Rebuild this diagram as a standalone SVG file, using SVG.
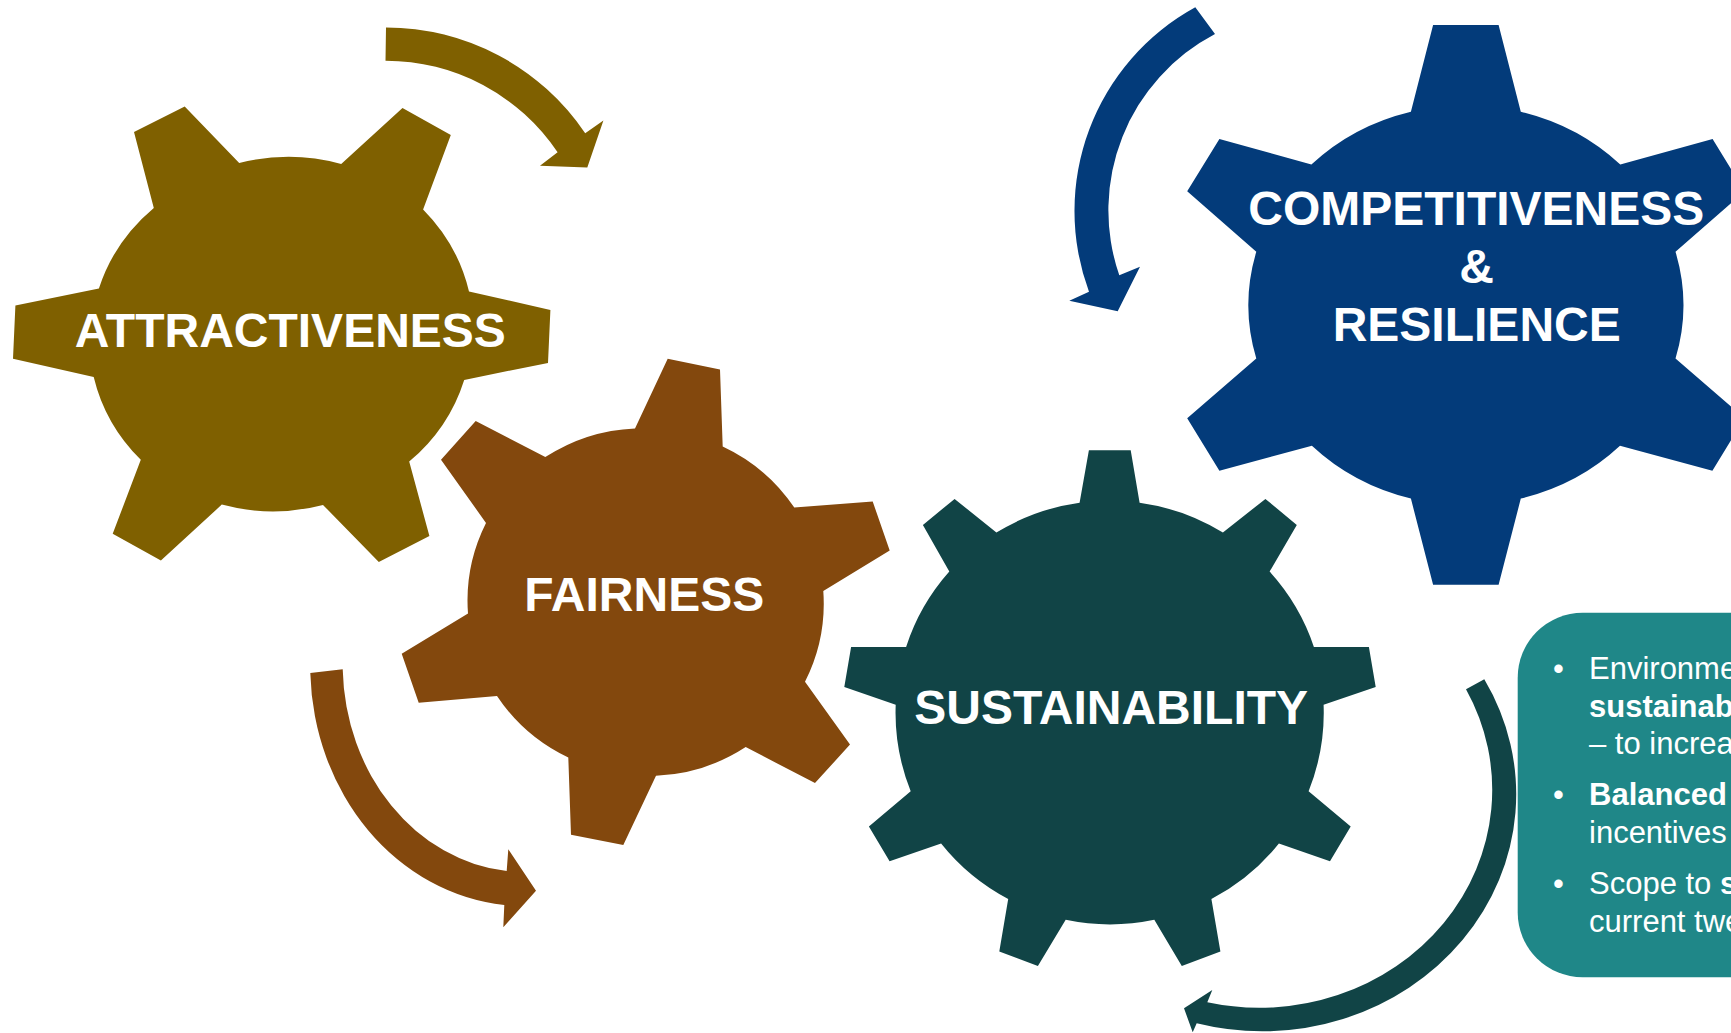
<svg xmlns="http://www.w3.org/2000/svg" width="1731" height="1033" viewBox="0 0 1731 1033">
  <style>
    .lbl { font-family: "Liberation Sans", Arial, sans-serif; font-weight: bold; font-size: 48px; fill: #ffffff; text-anchor: middle; }
    .box { font-family: "Liberation Sans", Arial, sans-serif; font-size: 31px; fill: #ffffff; }
    .b { font-weight: bold; }
    .olive { fill: #7f6000; }
    .brown { fill: #83480d; }
    .blue { fill: #033b7a; }
    .dteal { fill: #114446; }
    .teal { fill: #1f8788; }
  </style>
  <rect width="1731" height="1033" fill="#ffffff"/>

  <g id="connectors">
    <path id="arrow-olive" class="olive" d="M 386,27.4 A 240.4 240.4 0 0 1 585.2,133.2 L 603.4,120.5 L 587.3,167.4 L 540,165.7 L 557.6,152.3 A 207 207 0 0 0 385.5,60.7 Z"/>
    <path id="arrow-brown" class="brown" d="M 310.3,673 A 214 240 0 0 0 504.3,905 L 503.3,927.3 L 536,890.7 L 508.3,849.3 L 506.7,871 A 182 208 0 0 1 342.7,669.3 Z"/>
    <path id="arrow-blue" class="blue" d="M 1195.3,7.3 A 232 232 0 0 0 1089,291.7 L 1069.3,300.7 L 1117.7,311.3 L 1140,266.7 L 1119.3,275.3 A 199 199 0 0 1 1215,34 Z"/>
    <path id="arrow-teal" class="dteal" d="M 1484.3,679.3 A 254 237 0 0 1 1196.7,1023.3 L 1192.7,1032.3 L 1184,1008.3 L 1212.3,990 L 1207.3,1002.3 A 233 218 0 0 0 1466,689.3 Z"/>
  </g>

  <g id="gear-attractiveness">
    <path class="olive" d="M 134.0,132.1 L 184.7,106.5 L 239.2,163.1 A 188 177 0 0 1 341.2,163.9 L 402.5,108.0 L 450.8,135.0 L 423.1,209.4 A 188 177 0 0 1 469.0,291.5 L 550.4,310.0 L 548.0,362.9 L 464.2,379.9 A 188 177 0 0 1 409.2,461.6 L 429.4,536.0 L 378.8,561.9 L 323.0,504.9 A 188 177 0 0 1 221.8,504.6 L 160.9,560.4 L 112.7,533.8 L 140.8,459.8 A 188 177 0 0 1 93.7,376.9 L 13.0,358.8 L 15.4,305.5 L 98.9,288.5 A 188 177 0 0 1 153.8,207.9 Z"/>
    <text class="lbl" x="290.3" y="346.6">ATTRACTIVENESS</text>
  </g>

  <g id="gear-fairness">
    <path class="brown" d="M 667.7,358.8 L 720,369.5 L 722.7,446.4 A 177 175 0 0 1 794.3,507.6 L 872.7,501.5 L 889.7,550.5 L 823.3,591.0 A 177 175 0 0 1 805,681.7 L 850,744.5 L 815,783.1 L 745.7,747.1 A 177 175 0 0 1 656,775.8 L 623.3,845.1 L 571,834.8 L 568.3,757.5 A 177 175 0 0 1 497,695.9 L 418.7,702.8 L 401.7,653.8 L 468,613.6 A 177 175 0 0 1 486,522.9 L 441,459.8 L 475.7,421.1 L 545.3,457.1 A 177 175 0 0 1 635,428.4 Z"/>
    <text class="lbl" x="644.2" y="610.9">FAIRNESS</text>
  </g>

  <g id="gear-sustainability">
    <path class="dteal" d="M 1079.6,502.7 L 1088.9,450.3 L 1130.7,450.3 L 1139.6,502.7 A 214 212 0 0 1 1222.9,532.6 L 1265.4,498.9 L 1296.8,524.9 L 1269.6,571.6 A 214 212 0 0 1 1313.9,647.0 L 1368.9,647.0 L 1375.7,687.1 L 1323.6,704.7 A 214 212 0 0 1 1308.6,791.2 L 1350.7,826.4 L 1330,861.3 L 1278.9,843.6 A 214 212 0 0 1 1211.4,899.1 L 1220.4,951.6 L 1181.8,966.1 L 1154.3,919.8 A 214 212 0 0 1 1065.7,919.8 L 1037.9,966.1 L 999.3,951.6 L 1008.2,899.1 A 214 212 0 0 1 941.1,843.6 L 889.6,861.3 L 868.9,826.4 L 910.7,791.2 A 214 212 0 0 1 895.7,704.7 L 844.3,687.1 L 851.1,647.0 L 906.1,647.0 A 214 212 0 0 1 949.3,571.6 L 922.9,524.9 L 954.6,498.9 L 996.4,532.6 A 214 212 0 0 1 1079.6,502.7 Z"/>
    <text class="lbl" x="1111.2" y="723.9">SUSTAINABILITY</text>
  </g>

  <g id="gear-competitiveness">
    <path class="blue" d="M 1410.9,111.7 L 1433.1,24.9 L 1498.6,24.9 L 1520.8,111.7 A 217 200 0 0 1 1620.3,164.5 L 1712.6,138.9 L 1744.6,191.3 L 1675.5,251.8 A 217 200 0 0 1 1675.5,358.5 L 1744.6,418.2 L 1712.4,470.7 L 1620,445.8 A 217 200 0 0 1 1520.8,498.6 L 1498.6,584.7 L 1433.1,584.7 L 1410.9,498.6 A 217 200 0 0 1 1311.9,445.8 L 1219.4,470.7 L 1187.2,418.2 L 1256.3,358.5 A 217 200 0 0 1 1256.3,251.8 L 1187.2,191.3 L 1219.4,138.9 L 1311.4,164.5 A 217 200 0 0 1 1410.9,111.7 Z"/>
    <text class="lbl" x="1476.3" y="225">COMPETITIVENESS</text>
    <text class="lbl" x="1476.7" y="283.2">&amp;</text>
    <text class="lbl" x="1476.7" y="340.6">RESILIENCE</text>
  </g>

  <g id="info-box">
    <rect class="teal" x="1517.7" y="612.7" width="300" height="364.6" rx="65" ry="65"/>
    <text class="box" x="1553" y="679.3">•</text>
    <text class="box" x="1589" y="679.3">Environme</text>
    <text class="box b" x="1589" y="716.7">sustainab</text>
    <text class="box" x="1589" y="754.3">– to increa</text>
    <text class="box" x="1553" y="805">•</text>
    <text class="box b" x="1589" y="805">Balanced</text>
    <text class="box" x="1589" y="842.7">incentives</text>
    <text class="box" x="1553" y="894.3">•</text>
    <text class="box" x="1589" y="894.3">Scope to <tspan class="b">s</tspan></text>
    <text class="box" x="1589" y="932.3">current twe</text>
  </g>
</svg>
